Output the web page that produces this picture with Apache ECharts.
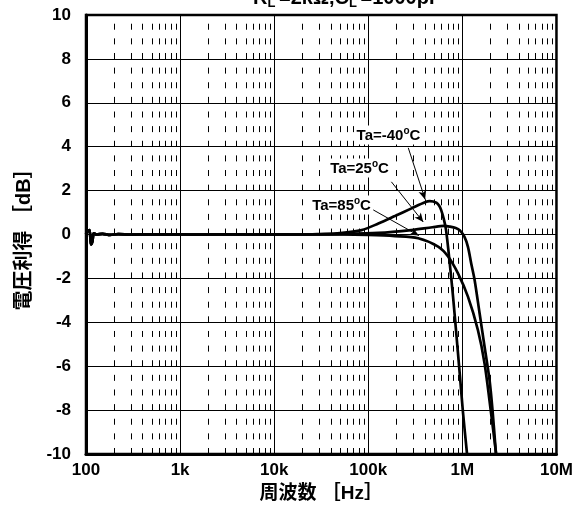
<!DOCTYPE html>
<html><head><meta charset="utf-8">
<script src="https://cdn.jsdelivr.net/npm/echarts@6/dist/echarts.min.js"></script>
<style>html,body{margin:0;padding:0;background:#fff;}#c{width:576px;height:509px;}</style>
</head><body><div id="c"></div>
<script>
// ---- data ----
const xTickValues = [100, 1000, 10000, 100000, 1000000, 10000000];
const xTickLabels = ['100', '1k', '10k', '100k', '1M', '10M'];
const yMin = -10, yMax = 10, yStep = 2;

// shared low-frequency part (all temperatures overlap)
const lowFreq = [100, 104, 109, 113, 117, 121, 130, 150, 180, 220, 300, 400, 600, 1000, 1500, 2000, 3000, 5000, 7000, 10000, 15000, 20000];
const lowGain = [0, 0.15, 0.2, -0.45, -0.3, 0.05, 0, 0.03, -0.02, 0.02, -0.01, 0.01, 0, 0.01, -0.01, 0, 0.01, 0, 0, 0.01, 0, 0];

const freqM40 = [30000, 50000, 85000, 128000, 192000, 288000, 400000, 451000, 530000, 565000, 594000, 635000, 671000, 734000, 796000, 855000, 936000, 1015000, 1127000];
const gainM40 = [0.02, 0.06, 0.2, 0.5, 0.84, 1.19, 1.47, 1.52, 1.45, 1.32, 1.12, 0.7, 0.2, -1.3, -2.83, -4.35, -6.3, -8.1, -10.1];

const freq25 = [50000, 128000, 286000, 480000, 640000, 734000, 850000, 936000, 1050000, 1146000, 1240000, 1349000, 1524000, 1720000, 1944000, 2100000, 2280000];
const gain25 = [0.02, 0.07, 0.2, 0.33, 0.39, 0.36, 0.3, 0.2, -0.1, -0.56, -1.31, -2.07, -3.59, -5.1, -6.63, -8.1, -10.05];

const freq85 = [50000, 100000, 192000, 340000, 552000, 705000, 898000, 1146000, 1462000, 1720000, 2020000, 2280000];
const gain85 = [0, -0.02, -0.07, -0.17, -0.55, -1.0, -1.77, -2.83, -4.35, -5.87, -8.15, -9.97];

// annotations
const annoNames = ['Ta=-40', 'Ta=25', 'Ta=85'];
const annoLabelPos = [[164000, 4.53], [80700, 3.03], [52000, 1.34]];
const annoArrowStart = [[266000, 3.95], [176000, 2.4], [113000, 1.12]];
const annoArrowEnd = [[402000, 1.6], [384000, 0.57], [345000, -0.05]];

// ---- build ----
function zip(f, g) { return f.map((v, i) => [v, g[i]]); }
const dM40 = zip(lowFreq, lowGain).concat(zip(freqM40, gainM40));
const d25 = zip(lowFreq, lowGain).concat(zip(freq25, gain25));
const d85 = zip(lowFreq, lowGain).concat(zip(freq85, gain85));

const minorVals = [];
for (let i = 0; i < xTickValues.length - 1; i++) {
  for (let m = 2; m <= 9; m++) minorVals.push(xTickValues[i] * m);
}

const fontNum = "'Liberation Sans', Arial, sans-serif";
const fontCJK = "'Liberation Sans', 'Noto Sans CJK JP', sans-serif";

const curveStyle = { color: '#000', width: 2.7 };
function curve(name, data) {
  return { name, type: 'line', data, showSymbol: false, symbol: 'none', smooth: 0.3,
    lineStyle: curveStyle, itemStyle: { color: '#000' }, clip: true, silent: true, z: 5 };
}

const chart = echarts.init(document.getElementById('c'), null, { renderer: 'canvas' });
const option = {
  animation: false,
  backgroundColor: '#fff',
  grid: { left: 86, right: 17, top: 15, bottom: 55, show: true, borderColor: '#000', borderWidth: 2.5, backgroundColor: 'transparent' },
  xAxis: {
    type: 'log', logBase: 10, min: 100, max: 10000000,
    name: '周波数 ［Hz］', nameLocation: 'middle', nameGap: 30,
    nameTextStyle: { fontFamily: fontCJK, fontWeight: 'bold', fontSize: 19, color: '#000' },
    axisLine: { show: true, onZero: false, lineStyle: { color: '#000', width: 3 } },
    axisTick: { show: false },
    axisLabel: { fontFamily: fontNum, fontWeight: 'bold', fontSize: 17, color: '#000', margin: 8,
      formatter: v => { const e = Math.round(Math.log10(v)); const i = xTickValues.indexOf(Math.pow(10, e)); return i >= 0 ? xTickLabels[i] : ''; } },
    splitLine: { show: true, lineStyle: { color: '#000', width: 1 } },
    minorTick: { show: false }, minorSplitLine: { show: false }
  },
  yAxis: {
    type: 'value', min: yMin, max: yMax, interval: yStep,
    name: '電圧利得 ［dB］', nameLocation: 'middle', nameGap: 52, nameRotate: 90,
    nameTextStyle: { fontFamily: fontCJK, fontWeight: 'bold', fontSize: 20, color: '#000' },
    axisLine: { show: true, onZero: false, lineStyle: { color: '#000', width: 3 } },
    axisTick: { show: false },
    axisLabel: { fontFamily: fontNum, fontWeight: 'bold', fontSize: 17, color: '#000', margin: 15 },
    splitLine: { show: true, lineStyle: { color: '#000', width: 1 } }
  },
  graphic: [{
    type: 'text', left: 253, top: -12, silent: true,
    style: {
      x: 0, y: 0,
      text: '{a|R}{s|L }{a|=2kΩ,C}{s|L }{a|=1000pF}',
      rich: {
        a: { fontFamily: fontNum, fontWeight: 'bold', fontSize: 20, fill: '#000' },
        s: { fontFamily: fontNum, fontWeight: 'bold', fontSize: 13, fill: '#000', padding: [11, 0, 0, 0] }
      }
    }
  }],
  series: [
    {
      type: 'line', data: [], silent: true,
      markLine: {
        silent: true, symbol: ['none', 'none'], animation: false,
        label: { show: false },
        lineStyle: { color: '#000', width: 1, type: [6, 8.63], dashOffset: 0 },
        emphasis: { disabled: true },
        data: minorVals.map(v => ({ xAxis: v }))
      }
    },
    curve('Ta=-40°C', dM40),
    curve('Ta=25°C', d25),
    curve('Ta=85°C', d85),
    {
      type: 'line', data: [], silent: true, z: 6,
      markLine: {
        silent: true, symbol: ['none', 'arrow'], symbolSize: [6, 9], animation: false,
        label: { show: false },
        lineStyle: { color: '#000', width: 1, type: 'solid' },
        emphasis: { disabled: true },
        data: annoArrowStart.map((s, i) => [{ coord: s }, { coord: annoArrowEnd[i] }])
      },
      markPoint: {
        silent: true, symbol: 'circle', symbolSize: 1, itemStyle: { color: 'rgba(0,0,0,0)' },
        animation: false,
        label: {
          show: true, position: 'inside', backgroundColor: '#fff', padding: [1, 2, 0, 2],
          formatter: p => '{t|' + annoNames[p.dataIndex] + '}{o|o}{t|C}',
          rich: {
            t: { fontFamily: fontNum, fontWeight: 'bold', fontSize: 15, color: '#000' },
            o: { fontFamily: fontNum, fontWeight: 'bold', fontSize: 10, color: '#000', padding: [0, 0, 8, 0] }
          }
        },
        data: annoLabelPos.map(p => ({ coord: p }))
      }
    }
  ]
};
chart.setOption(option);
</script></body></html>
